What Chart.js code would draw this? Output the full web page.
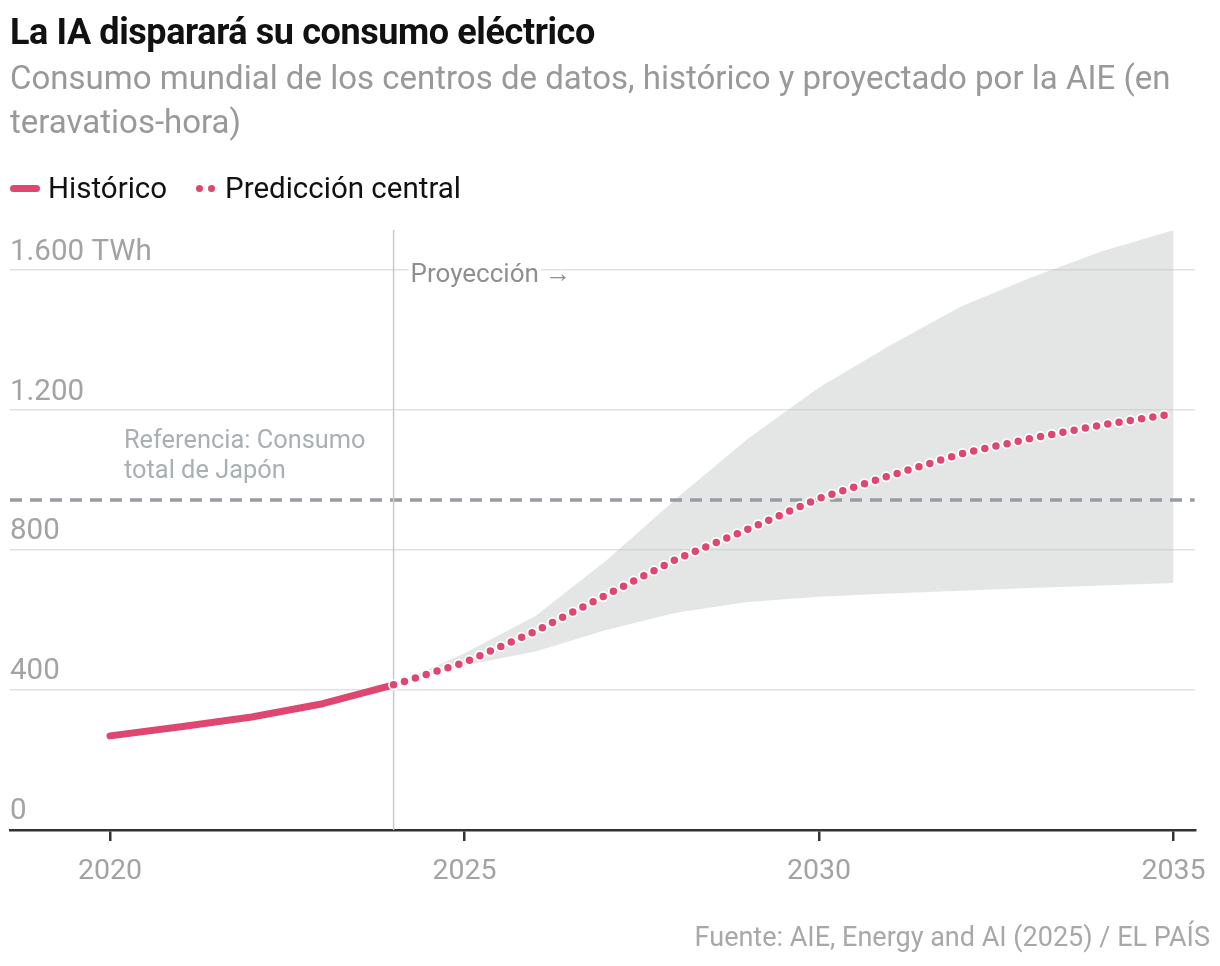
<!DOCTYPE html>
<html lang="es">
<head>
<meta charset="utf-8">
<title>La IA disparará su consumo eléctrico</title>
<script src="https://cdn.jsdelivr.net/npm/chart.js@4.4.1/dist/chart.umd.min.js"></script>
<style>
  html, body { margin: 0; padding: 0; background: #fff; }
  body { width: 1220px; height: 966px; position: relative; overflow: hidden; font-family: Roboto, "Noto Sans", sans-serif; }
  #lienzo { position: absolute; left: 0; top: 0; }
  .titulo { position: absolute; left: 10px; top: 12px; font-size: 36px; font-weight: 700; color: #111; letter-spacing: -0.4px; line-height: 40px; }
  .subtitulo { position: absolute; left: 10px; top: 56px; width: 1205px; font-size: 33px; color: #999; line-height: 44px; }
  .leyenda { position: absolute; left: 10px; top: 170px; font-size: 29.5px; color: #111; line-height: 36px; display: flex; align-items: center; }
  .sw-linea { display: inline-block; width: 30px; height: 7px; border-radius: 4px; background: #df4771; margin-right: 8px; }
  .sw-puntos { display: inline-flex; gap: 5px; margin: 0 10px 0 29px; }
  .sw-puntos i { width: 7px; height: 7px; border-radius: 50%; background: #df4771; display: inline-block; }
  .fuente { position: absolute; right: 10px; top: 921px; font-size: 27px; color: #a8a8a8; }
</style>
</head>
<body>
<canvas id="lienzo" width="1220" height="966"></canvas>
<div class="titulo">La IA disparará su consumo eléctrico</div>
<div class="subtitulo">Consumo mundial de los centros de datos, histórico y proyectado por la AIE (en teravatios-hora)</div>
<div class="leyenda">
  <span class="sw-linea"></span><span>Histórico</span>
  <span class="sw-puntos"><i></i><i></i></span><span>Predicción central</span>
</div>
<div class="fuente">Fuente: AIE, Energy and AI (2025) / EL PAÍS</div>

<script>
// Datos (TWh)
const aniosHist = [2020, 2021, 2022, 2023, 2024];
const historico = [269, 295, 323, 361, 415];

const aniosProy = [2024, 2025, 2026, 2027, 2028, 2029, 2030, 2031, 2032, 2033, 2034, 2035];
const central   = [415, 479, 568, 672, 775, 860, 948, 1013, 1075, 1120, 1158, 1190];
const bandaAlta = [415, 505, 612, 770, 950, 1119, 1265, 1385, 1496, 1580, 1655, 1714];
const bandaBaja = [415, 470, 510, 572, 622, 652, 667, 676, 684, 692, 699, 706];

const consumoJapon = 943;
const inicioProyeccion = 2024;

const ticksX = [2020, 2025, 2030, 2035];
const ticksY = [0, 400, 800, 1200, 1600];
const ejeX = [2018.59, 2035.3];
const ejeY = [0, 1715];

const ROSA = '#df4771';
const GRIS_TXT = '#a3a3a3';

const puntos = (xs, ys) => xs.map((x, i) => ({ x, y: ys[i] }));

function etiquetaY(v) {
  const txt = v.toLocaleString('es-ES', { useGrouping: 'always' });
  return v === ticksY[ticksY.length - 1] ? txt + ' TWh' : txt;
}

// textos de anotación anclados a las escalas
const anotaciones = {
  id: 'anotaciones',
  afterDatasetsDraw(chart) {
    const { ctx, scales: { x, y } } = chart;
    ctx.save();
    ctx.textBaseline = 'middle';
    ctx.textAlign = 'left';

    ctx.font = '26px Roboto, sans-serif';
    const px = x.getPixelForValue(inicioProyeccion) + 17;
    const py = y.getPixelForValue(ticksY[ticksY.length - 1]) + 5;
    const txt = 'Proyección →';
    ctx.strokeStyle = '#fff';
    ctx.lineWidth = 8;
    ctx.lineJoin = 'round';
    ctx.strokeText(txt, px, py);
    ctx.fillStyle = '#8f8f8f';
    ctx.fillText(txt, px, py);

    ctx.font = '25.4px Roboto, sans-serif';
    ctx.fillStyle = '#a9b0b3';
    const jy = y.getPixelForValue(consumoJapon);
    const jx = x.getPixelForValue(2020) + 14;
    ctx.fillText('Referencia: Consumo', jx, jy - 58);
    ctx.fillText('total de Japón', jx, jy - 28);
    ctx.restore();
  }
};

new Chart(document.getElementById('lienzo'), {
  type: 'line',
  data: {
    datasets: [
      {
        label: 'Predicción central',
        data: puntos(aniosProy, central),
        borderColor: ROSA,
        borderWidth: 7.5,
        borderDash: [0, 11.4],
        borderCapStyle: 'round',
        pointRadius: 0,
        fill: false,
        order: 0
      },
      {
        label: 'halo',
        data: puntos(aniosProy, central),
        borderColor: '#fff',
        borderWidth: 11,
        borderDash: [0, 11.4],
        borderCapStyle: 'round',
        pointRadius: 0,
        fill: false,
        order: 1
      },
      {
        label: 'Histórico',
        data: puntos(aniosHist, historico),
        borderColor: ROSA,
        borderWidth: 7,
        borderCapStyle: 'round',
        borderJoinStyle: 'round',
        pointRadius: 0,
        fill: false,
        order: 2
      },
      {
        label: 'inicio proyección',
        data: [{ x: inicioProyeccion, y: ejeY[0] }, { x: inicioProyeccion, y: ejeY[1] }],
        borderColor: '#c9c9c9',
        borderWidth: 1.5,
        pointRadius: 0,
        fill: false,
        order: 3
      },
      {
        label: 'Japón',
        data: [{ x: ejeX[0], y: consumoJapon }, { x: ejeX[1], y: consumoJapon }],
        borderColor: '#979ba2',
        borderWidth: 3.5,
        borderDash: [12, 8],
        pointRadius: 0,
        fill: false,
        order: 4
      },
      {
        label: 'banda alta',
        data: puntos(aniosProy, bandaAlta),
        borderWidth: 0,
        borderColor: 'rgba(0,0,0,0)',
        backgroundColor: 'rgba(196,200,200,0.45)',
        pointRadius: 0,
        fill: '+1',
        order: 5
      },
      {
        label: 'banda baja',
        data: puntos(aniosProy, bandaBaja),
        borderWidth: 0,
        borderColor: 'rgba(0,0,0,0)',
        pointRadius: 0,
        fill: false,
        order: 6
      }
    ]
  },
  options: {
    responsive: false,
    animation: false,
    devicePixelRatio: 1,
    layout: { padding: { left: 10, right: 24, top: 230, bottom: 0 } },
    plugins: { legend: { display: false }, tooltip: { enabled: false } },
    elements: { line: { tension: 0 } },
    scales: {
      x: {
        type: 'linear',
        min: ejeX[0],
        max: ejeX[1],
        afterBuildTicks: (s) => { s.ticks = ticksX.map(v => ({ value: v })); },
        afterFit: (s) => { s.height = 966 - 830; },
        grid: { drawOnChartArea: false, drawTicks: true, tickLength: 11, color: '#333', lineWidth: 2.5 },
        border: { display: true, color: '#333', width: 2.5 },
        ticks: { color: GRIS_TXT, font: { size: 28.5, family: 'Roboto' }, padding: 14, maxRotation: 0, callback: v => String(v) }
      },
      y: {
        min: ejeY[0],
        max: ejeY[1],
        afterBuildTicks: (s) => { s.ticks = ticksY.map(v => ({ value: v })); },
        afterFit: (s) => { s.width = 0; },
        grid: { drawTicks: false, color: '#e1e1e1', lineWidth: 1.5 },
        border: { display: false },
        ticks: {
          mirror: true, padding: 0, labelOffset: -18,
          color: GRIS_TXT, font: { size: 29.5, family: 'Roboto' },
          callback: v => etiquetaY(v)
        }
      }
    }
  },
  plugins: [anotaciones]
});
</script>
</body>
</html>
